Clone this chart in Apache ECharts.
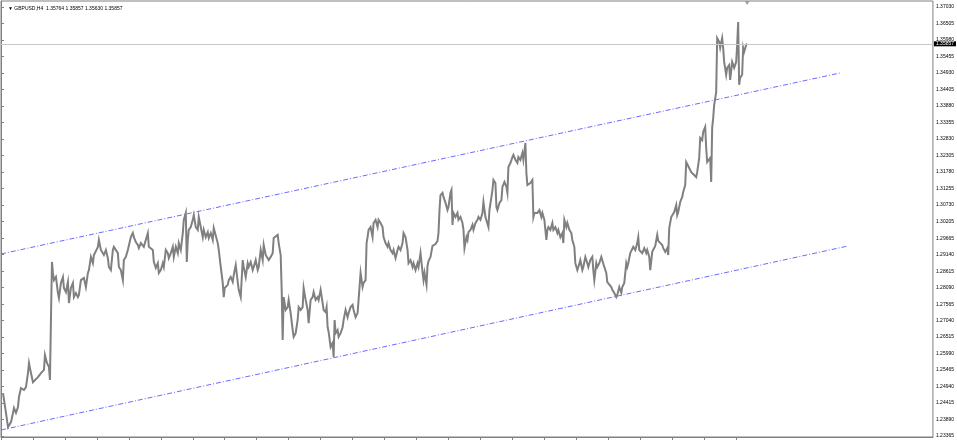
<!DOCTYPE html>
<html>
<head>
<meta charset="utf-8">
<script src="https://cdn.jsdelivr.net/npm/echarts@6/dist/echarts.min.js"></script>
<style>
html,body{margin:0;padding:0;background:#fff;}
#chart{width:957px;height:440px;}
</style>
</head>
<body>
<div id="chart"></div>
<script>
// ---- data ----
const symbolName = "GBPUSD,H4";
const ohlcText = ["1.35764", "1.35857", "1.35630", "1.35857"];
const currentPrice = 1.35857;
const yMin = 1.23333, yMax = 1.37221;
const yTickLabels = ["1.37030","1.36505","1.35980","1.35455","1.34930","1.34405","1.33880","1.33355","1.32830","1.32305","1.31780","1.31255","1.30730","1.30205","1.29665","1.29140","1.28615","1.28090","1.27565","1.27040","1.26515","1.25990","1.25465","1.24940","1.24415","1.23890","1.23365"];
const xTickBars = [0,32,64,96,128,160,192,224,256,288,320,352,384,416,448,480,512,544,576,608,640,672,704,736];
const barsShown = 933;
// [bar number, close price]
const closeByBar = [
[2,1.2473],[5,1.2410],[7,1.2365],[10,1.2381],[12,1.2410],[13,1.2426],[15,1.2410],[17,1.2429],[18,1.2461],[20,1.2489],
[23,1.2483],[25,1.2492],[27,1.2537],[28,1.2569],[30,1.2537],[32,1.2508],[33,1.2505],[37,1.2524],[40,1.2537],[43,1.2547],
[44,1.2594],[46,1.2569],[48,1.2556],[49,1.2515],[50,1.2706],[51,1.2891],[52,1.2856],[53,1.2833],[55,1.2843],[57,1.2792],
[58,1.2776],[60,1.2824],[62,1.2843],[63,1.2808],[65,1.2795],[67,1.2827],[68,1.2760],[70,1.2808],[72,1.2824],[73,1.2779],
[75,1.2792],[77,1.2779],[78,1.2786],[80,1.2833],[83,1.2840],[85,1.2811],[87,1.2856],[88,1.2865],[90,1.2907],[92,1.2887],
[93,1.2913],[97,1.2939],[98,1.2961],[100,1.2929],[102,1.2935],[103,1.2913],[105,1.2929],[107,1.2903],[108,1.2875],[110,1.2865],
[112,1.2929],[113,1.2939],[115,1.2945],[117,1.2919],[118,1.2875],[120,1.2865],[122,1.2833],[123,1.2897],[125,1.2907],[127,1.2929],
[128,1.2935],[130,1.2970],[132,1.2983],[133,1.2970],[135,1.2954],[137,1.2945],[138,1.2935],[140,1.2951],[143,1.2939],[147,1.2983],
[148,1.2939],[150,1.2939],[152,1.2929],[153,1.2891],[155,1.2872],[157,1.2887],[158,1.2856],[160,1.2865],[162,1.2887],[163,1.2875],
[165,1.2929],[167,1.2919],[168,1.2903],[170,1.2919],[172,1.2939],[173,1.2907],[175,1.2939],[177,1.2919],[178,1.2951],[180,1.2929],
[182,1.2983],[183,1.3025],[185,1.3047],[186,1.2891],[187,1.2961],[188,1.2993],[190,1.3002],[192,1.3025],[193,1.3040],[195,1.3002],
[197,1.2993],[198,1.3034],[200,1.3002],[202,1.2970],[203,1.2993],[205,1.2970],[207,1.2986],[208,1.2967],[210,1.2983],[212,1.2961],
[213,1.2999],[215,1.3002],[217,1.2951],[218,1.2929],[220,1.2875],[222,1.2824],[223,1.2779],[224,1.2808],[227,1.2818],[228,1.2833],
[230,1.2843],[232,1.2827],[233,1.2849],[235,1.2881],[237,1.2827],[238,1.2802],[240,1.2779],
[242,1.2897],[243,1.2875],[245,1.2843],[247,1.2887],[248,1.2875],[250,1.2891],[252,1.2865],[253,1.2875],[255,1.2897],[257,1.2865],
[258,1.2875],[260,1.2929],[262,1.2897],[263,1.2945],[265,1.2913],[267,1.2907],[268,1.2897],[270,1.2907],[272,1.2919],[273,1.2967],
[275,1.2961],[277,1.2977],[278,1.2951],[280,1.2913],[281,1.2802],[282,1.2642],[283,1.2779],[285,1.2738],[287,1.2747],[288,1.2770],
[290,1.2728],[292,1.2674],[293,1.2652],[295,1.2664],[297,1.2706],[298,1.2747],[300,1.2738],[302,1.2747],[303,1.2808],[305,1.2770],
[307,1.2738],[308,1.2696],[310,1.2770],[312,1.2779],[313,1.2795],[315,1.2770],[317,1.2779],[318,1.2770],[320,1.2802],[322,1.2760],
[323,1.2738],[325,1.2731],[326,1.2747],[327,1.2683],[328,1.2668],[330,1.2620],[332,1.2633],[333,1.2588],[334,1.2706],[335,1.2664],
[337,1.2674],[338,1.2652],[340,1.2664],[342,1.2683],[343,1.2706],[345,1.2738],[347,1.2715],[348,1.2728],[350,1.2747],[352,1.2754],
[353,1.2738],[355,1.2715],[357,1.2728],[358,1.2770],[360,1.2856],[362,1.2811],[363,1.2824],[365,1.2833],[366,1.2951],[367,1.2970],
[368,1.2993],[370,1.3002],[372,1.2970],[373,1.3015],[375,1.3025],[377,1.3002],[378,1.3025],[380,1.3015],[382,1.3002],[383,1.2970],
[385,1.2951],[387,1.2939],[388,1.2951],[390,1.2929],[392,1.2919],[393,1.2929],[395,1.2903],[397,1.2929],[398,1.2939],[400,1.2929],
[402,1.2951],[403,1.2983],[405,1.2970],[407,1.2929],[408,1.2887],[410,1.2897],[412,1.2875],[413,1.2887],[415,1.2865],[417,1.2887],
[418,1.2875],[420,1.2919],[422,1.2859],[423,1.2833],[424,1.2856],[426,1.2818],[427,1.2878],[428,1.2894],[430,1.2907],[432,1.2942],
[433,1.2942],[435,1.2948],[437,1.2958],[438,1.2983],[439,1.3056],[440,1.3104],
[442,1.3111],[443,1.3098],[445,1.3079],[447,1.3056],[448,1.3066],[450,1.3111],[451,1.3120],[452,1.3009],[453,1.3047],[455,1.3034],
[457,1.3047],[458,1.3025],[460,1.3034],[462,1.3015],[463,1.2993],[464,1.2935],[466,1.2970],[467,1.2961],[468,1.2986],[470,1.2993],
[472,1.3009],[473,1.2993],[475,1.3015],[477,1.3025],[478,1.3034],[480,1.3025],[482,1.3047],[483,1.3082],[485,1.3034],[487,1.3031],
[488,1.3002],[489,1.3056],[491,1.3098],[492,1.3120],[493,1.3152],[495,1.3142],[496,1.3066],[497,1.3056],[499,1.3079],[501,1.3088],
[502,1.3130],[504,1.3146],[506,1.3130],[507,1.3111],[508,1.3193],[510,1.3206],[512,1.3225],[513,1.3232],[515,1.3216],[517,1.3206],
[518,1.3225],[520,1.3216],[522,1.3238],[523,1.3216],[525,1.3270],[526,1.3174],[527,1.3136],[528,1.3130],[530,1.3142],[532,1.3152],
[533,1.3034],[534,1.3047],[536,1.3050],[537,1.3047],[539,1.3056],[541,1.3034],[542,1.3047],[544,1.3025],[546,1.2961],[547,1.2993],
[548,1.3002],[550,1.2993],[552,1.3015],[553,1.2993],[555,1.3002],[557,1.2983],[558,1.2993],[560,1.2970],[562,1.2983],[563,1.2951],
[564,1.3025],[566,1.3002],[567,1.3015],[569,1.2993],[571,1.2983],[572,1.2961],[574,1.2939],[575,1.2887],[577,1.2865],[578,1.2875],
[580,1.2897],[582,1.2865],[583,1.2875],[585,1.2907],[587,1.2887],[588,1.2875],[590,1.2897],[592,1.2907],[593,1.2865],[594,1.2833],
[596,1.2887],[597,1.2875],[599,1.2887],[601,1.2907],[602,1.2907],[604,1.2875],[606,1.2856],[607,1.2827],[609,1.2833],[611,1.2811],
[612,1.2802],[614,1.2792],[616,1.2779],[617,1.2786],[619,1.2811],[621,1.2792],[622,1.2811],[624,1.2824],[626,1.2887],[627,1.2875],
[628,1.2887],[630,1.2919],[632,1.2913],[633,1.2939],[635,1.2929],[637,1.2951],[638,1.2970],[639,1.2929],[641,1.2929],[642,1.2919],
[644,1.2935],[646,1.2919],[647,1.2929],[649,1.2907],[650,1.2865],[652,1.2923],[653,1.2929],[655,1.2942],[657,1.2977],[658,1.2958],
[660,1.2961],[662,1.2945],[663,1.2935],[665,1.2923],[667,1.2935],[668,1.2913],[669,1.2999],[671,1.3034],[672,1.3040],[674,1.3050],
[676,1.3072],[677,1.3040],[678,1.3050],[680,1.3082],[682,1.3098],[683,1.3114],[685,1.3136],[686,1.3209],[687,1.3209],[689,1.3190],
[691,1.3177],[692,1.3177],[694,1.3168],[696,1.3161],[697,1.3177],[699,1.3222],[700,1.3286],[702,1.3279],[703,1.3305],[705,1.3321],
[706,1.3254],[707,1.3209],[709,1.3206],[710,1.3222],[711,1.3146],[712,1.3318],[713,1.3349],[714,1.3391],[715,1.3391],[716,1.3432],
[717,1.3604],[719,1.3592],[720,1.3573],[722,1.3604],[723,1.3573],[724,1.3528],[726,1.3487],[727,1.3509],[729,1.3518],[730,1.3471],
[731,1.3477],[732,1.3528],[734,1.3509],[736,1.3528],[737,1.3582],[738,1.3655],[739,1.3455],[740,1.3477],[742,1.3487],[743,1.3573],
[744,1.3560],[746,1.3582],[747,1.3586]
];
const upperChannel = [[0, 1.29163], [840, 1.34928]];
const lowerChannel = [[0, 1.23556], [848, 1.29417]];
const shiftMarkBar = 747;

// ---- chart ----
const chart = echarts.init(document.getElementById('chart'), null, {renderer: 'canvas'});
const axisColor = '#808080';
const fontFamily = 'Liberation Sans, Arial, sans-serif';
const tickValues = yTickLabels.map(Number);

chart.setOption({
  animation: false,
  backgroundColor: '#ffffff',
  title: {
    text: '\u25BC ' + symbolName + '  ' + ohlcText.join(' '),
    left: 3, top: 1,
    textStyle: {fontSize: 5, fontWeight: 'normal', color: '#000', fontFamily: fontFamily}
  },
  grid: {
    left: 1, right: 23, top: 1, bottom: 3,
    show: true, borderColor: axisColor, borderWidth: 1, backgroundColor: '#fff'
  },
  xAxis: {
    type: 'value', min: 0, max: barsShown,
    axisLine: {show: true, lineStyle: {color: axisColor, width: 1}},
    axisTick: {show: true, customValues: xTickBars, length: 3, lineStyle: {color: axisColor}},
    axisLabel: {show: false},
    splitLine: {show: false}
  },
  yAxis: {
    type: 'value', position: 'right', min: yMin, max: yMax,
    axisLine: {show: true, lineStyle: {color: axisColor, width: 1}},
    axisTick: {show: true, customValues: tickValues, length: 3, lineStyle: {color: axisColor}},
    axisLabel: {
      show: true, customValues: tickValues, margin: 3,
      fontSize: 5, color: '#000', fontFamily: fontFamily,
      formatter: v => v.toFixed(5)
    },
    splitLine: {show: false}
  },
  series: [
    {
      type: 'line', name: 'upper', data: upperChannel, showSymbol: false, symbol: 'none',
      lineStyle: {color: '#6b6bff', width: 1, type: [5, 2, 1, 2]}, z: 3
    },
    {
      type: 'line', name: 'lower', data: lowerChannel, showSymbol: false, symbol: 'none',
      lineStyle: {color: '#6b6bff', width: 1, type: [5, 2, 1, 2]}, z: 3
    },
    {
      type: 'line', name: symbolName, data: closeByBar, showSymbol: false, symbol: 'none',
      sampling: null,
      lineStyle: {color: '#808080', width: 2, join: 'miter'}, z: 4,
      markLine: {
        silent: true, symbol: 'none', animation: false, precision: 5,
        data: [{yAxis: currentPrice}],
        lineStyle: {color: '#c8c8c8', type: 'solid', width: 1},
        label: {
          show: true, position: 'end', distance: 1,
          formatter: currentPrice.toFixed(5),
          backgroundColor: '#000', color: '#fff',
          fontSize: 5, lineHeight: 5, fontFamily: fontFamily, padding: [0, 2, 0, 2]
        }
      },
      markPoint: {
        silent: true, animation: false,
        data: [{coord: [shiftMarkBar, yMax], symbol: 'triangle', symbolSize: [5, 4],
                symbolRotate: 180, symbolOffset: [0, 2], itemStyle: {color: '#a0a0a0'}}],
        label: {show: false}
      }
    }
  ]
});
</script>
</body>
</html>
